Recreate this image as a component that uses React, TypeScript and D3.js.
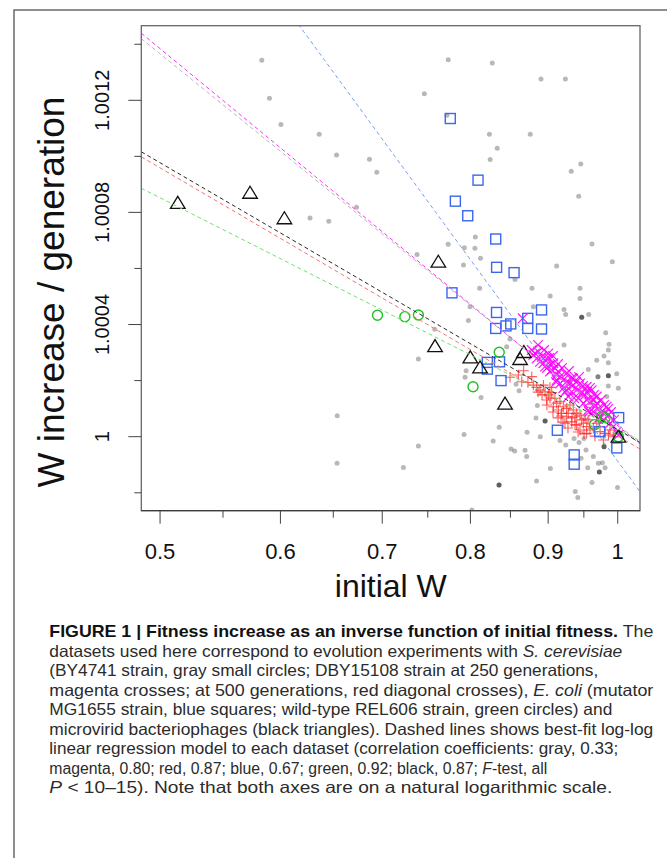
import React from "react";
import * as d3 from "d3";

// ---- Data (initial W, W increase / generation) ----
const grayX = [0.5833,0.5901,0.6004,0.6363,0.6532,0.6866,0.6943,0.6733,0.6275,0.6456,0.7736,0.8270,0.7461,0.8903,0.9238,0.8234,0.8759,0.8332,0.8243,0.9456,0.9320,0.9426,0.7720,0.8060,0.8055,0.7735,0.7927,0.8123,0.7917,0.7379,0.9617,0.9919,0.9116,0.8559,0.8782,0.8113,0.9028,0.9445,0.9445,0.7976,0.7996,0.7579,0.7394,0.7948,0.7936,0.8130,0.8452,0.8494,0.8573,0.8612,0.8800,0.9219,0.9242,0.9469,0.9469,0.9469,0.9570,0.9219,0.9820,0.9870,0.9859,0.9795,0.9687,0.9859,0.9564,0.9859,0.9859,0.9859,0.9859,0.9835,0.9637,0.9985,1.0009,0.8854,0.8836,0.8958,0.8958,0.8958,0.8717,0.8357,0.8281,0.7924,0.7394,0.7228,0.8508,0.8555,0.8690,0.8712,0.8893,0.8355,0.8355,0.8355,0.8843,0.9030,0.9163,0.9243,0.9360,0.9431,0.9502,0.9460,0.9531,0.9637,0.9711,0.9770,0.9810,0.9725,0.9725,0.9725,0.9556,0.9618,0.9377,0.9413,0.9997,0.8017,0.6539,0.6537,0.9795,0.9795,0.9795,0.9705,0.9705];
const grayY = [1.001343,1.001207,1.001114,1.001079,1.001005,1.000990,1.000943,1.000818,1.000780,1.000768,1.001345,1.001333,1.001223,1.001276,1.001276,1.001079,1.001079,1.001029,1.000989,1.000973,1.000947,1.000858,1.001147,1.000712,1.000672,1.000686,1.000674,1.000636,1.000612,1.000650,1.000687,1.000624,1.000609,1.000561,1.000529,1.000529,1.000502,1.000529,1.000493,1.000414,1.000463,1.000383,1.000277,1.000235,1.000212,1.000140,1.000321,1.000348,1.000187,1.000164,1.000463,1.000454,1.000436,1.000426,1.000426,1.000426,1.000436,1.000327,1.000371,1.000330,1.000309,1.000288,1.000273,1.000264,1.000240,1.000217,1.000217,1.000217,1.000181,1.000143,1.000125,1.000224,1.000173,1.000111,1.000067,1.000056,1.000056,1.000056,1.000016,1.000034,0.999985,1.000008,0.999967,0.999890,0.999956,0.999949,0.999952,0.999929,1.000000,0.999828,0.999828,0.999828,0.999842,0.999887,0.999986,0.999970,0.999994,0.999979,0.999994,0.999923,0.999953,0.999929,0.999905,0.999907,0.999889,0.999874,0.999874,0.999874,0.999889,0.999837,0.999805,0.999783,0.999819,0.999739,1.000075,0.999905,0.999964,0.999964,0.999964,1.000214,1.000214];

const magentaX = [0.8660,0.8779,0.8823,0.8867,0.8913,0.8980,0.8935,0.9025,0.9048,0.9093,0.9117,0.9163,0.9209,0.9256,0.9302,0.9349,0.9256,0.9326,0.9397,0.9469,0.9517,0.9541,0.9588,0.9637,0.9661,0.9711,0.9761,0.9810,0.9860,0.9541,0.9613,0.9687,0.9445,0.9349,0.9071,0.9025,0.9140,0.9003,0.8890,0.9163,0.9209,0.9421,0.9493,0.9736,0.9785,0.9884,0.9934,0.9985,1.0009,0.9835,0.9564,0.9637,0.9279,0.9117,0.8958,0.8845,0.8800,
  0.8863,0.8944,0.9012,0.9066,0.9135,0.9191,0.9247,0.9288,0.9331,0.9388,0.9431,0.9488,0.9546,0.9588,0.9646,0.9692,0.9751,0.9795,0.9855,0.9899,0.9944,0.8983,0.9108,0.9233,0.9360,0.9575,0.9706];
const magentaY = [1.000422,1.000309,1.000297,1.000303,1.000285,1.000279,1.000262,1.000256,1.000238,1.000244,1.000220,1.000214,1.000202,1.000196,1.000190,1.000184,1.000166,1.000160,1.000166,1.000155,1.000149,1.000131,1.000125,1.000131,1.000107,1.000101,1.000089,1.000083,1.000077,1.000178,1.000166,1.000143,1.000190,1.000208,1.000262,1.000232,1.000232,1.000297,1.000267,1.000190,1.000173,1.000137,1.000119,1.000071,1.000060,1.000048,1.000036,1.000018,1.000006,1.000107,1.000095,1.000089,1.000143,1.000202,1.000250,1.000279,1.000291,
  1.000327,1.000309,1.000281,1.000288,1.000259,1.000245,1.000224,1.000234,1.000209,1.000195,1.000213,1.000181,1.000159,1.000174,1.000149,1.000120,1.000131,1.000113,1.000099,1.000088,1.000060,1.000245,1.000195,1.000159,1.000138,1.000088,1.000063];

const redX = [0.8495,0.8603,0.8672,0.8728,0.8800,0.8845,0.8890,0.8958,0.9003,0.9048,0.9093,0.9117,0.9163,0.9209,0.9256,0.9279,0.9302,0.9349,0.9372,0.9397,0.9445,0.9469,0.9493,0.9517,0.9256,0.9232,0.9326,0.9397,0.9445,0.9541,0.9588,0.9637,0.9736,0.9810,0.9860,0.9934,0.9687,0.9140,0.9071,0.8980,0.8935,0.8779,0.8647,0.9025,0.9186,0.9541,0.9785,0.9884,
  0.8917,0.8983,0.9066,0.9135,0.9205,0.9274,0.9331,0.9417,0.9502,0.9560,0.9661,0.9025,0.8863,0.9177,0.9374];
const redY = [1.000212,1.000220,1.000235,1.000193,1.000184,1.000176,1.000166,1.000160,1.000149,1.000157,1.000137,1.000119,1.000125,1.000107,1.000101,1.000083,1.000113,1.000095,1.000071,1.000083,1.000077,1.000060,1.000048,1.000066,1.000071,1.000048,1.000053,1.000042,1.000024,1.000036,1.000024,1.000030,1.000018,1.000012,1.000006,1.000000,1.000048,1.000095,1.000107,1.000131,1.000184,1.000214,1.000196,1.000176,1.000083,1.000012,0.999988,1.000024,
  1.000149,1.000113,1.000088,1.000067,1.000052,1.000031,1.000067,1.000017,1.000010,1.000060,1.000002,1.000138,1.000159,1.000074,1.000042];

const blueX = [0.7760,0.8093,0.7820,0.7968,0.8313,0.8324,0.8547,0.7780,0.8323,0.8910,0.8313,0.8443,0.8504,0.8726,0.8726,0.8910,0.8208,0.8208,0.8361,0.8380,0.9126,0.9362,0.9362,1.0014,0.9730,0.9986];
const blueY = [1.001135,1.000915,1.000840,1.000788,1.000705,1.000604,1.000585,1.000513,1.000443,1.000452,1.000386,1.000395,1.000402,1.000422,1.000386,1.000384,1.000265,1.000241,1.000267,1.000200,1.000023,0.999935,0.999902,1.000068,1.000018,0.999960];

const greenX = [0.6950,0.7244,0.7394,0.8357,0.8032,0.9655,0.9761,0.9810,1.0010];
const greenY = [1.000433,1.000428,1.000434,1.000301,1.000178,1.000043,1.000073,1.000068,1.000000];

const blackX = [0.5136,0.5730,0.6036,0.7621,0.7583,0.7999,0.8118,0.8431,0.8625,0.8675,1.0010];
const blackY = [1.000834,1.000870,1.000779,1.000624,1.000323,1.000283,1.000247,1.000118,1.000277,1.000302,1.000000];

// log-log fits: ln(y) = a + b * ln(x)
const fitNames = ["gray", "magenta", "red", "blue", "green", "black"];
const fitA = [0.0000433, 0.0000394, 0.0000025, -0.0000874, 0.0000262, 0.0000253];
const fitB = [-0.0019068, -0.001939, -0.0013791, -0.0032201, -0.0011912, -0.0013725];

const xTickValues = [0.5, 0.6, 0.7, 0.8, 0.9, 1];
const xTickLabels = ["0.5", "0.6", "0.7", "0.8", "0.9", "1"];
const xMinorTicks = [0.55, 0.65, 0.75, 0.85, 0.95];
const yTickValues = [1, 1.0004, 1.0008, 1.0012];
const yTickLabels = ["1", "1.0004", "1.0008", "1.0012"];
const yMinorTicks = [0.9998, 1.0002, 1.0006, 1.001, 1.0014];

const xDomain = [0.486, 1.0343];
const yDomain = [0.9997362, 1.0014663];

const captionLines: { t: string; s?: "b" | "i" }[][] = [
  [{ t: "FIGURE 1 | Fitness increase as an inverse function of initial fitness.", s: "b" }, { t: " The" }],
  [{ t: "datasets used here correspond to evolution experiments with " }, { t: "S. cerevisiae", s: "i" }],
  [{ t: "(BY4741 strain, gray small circles; DBY15108 strain at 250 generations," }],
  [{ t: "magenta crosses; at 500 generations, red diagonal crosses), " }, { t: "E. coli", s: "i" }, { t: " (mutator" }],
  [{ t: "MG1655 strain, blue squares; wild-type REL606 strain, green circles) and" }],
  [{ t: "microvirid bacteriophages (black triangles). Dashed lines shows best-fit log-log" }],
  [{ t: "linear regression model to each dataset (correlation coefficients: gray, 0.33;" }],
  [{ t: "magenta, 0.80; red, 0.87; blue, 0.67; green, 0.92; black, 0.87; " }, { t: "F", s: "i" }, { t: "-test, all" }],
  [{ t: "P", s: "i" }, { t: " < 10–15). Note that both axes are on a natural logarithmic scale." }],
];
// target line widths (0 = natural width)
const captionWidths = [604, 573, 549, 604, 563, 604, 569, 0, 563];

const fitColors: Record<string, string> = {
  gray: "#b8b8b8",
  magenta: "#ff30ff",
  red: "#f27272",
  blue: "#7b9df2",
  green: "#6fe06f",
  black: "#2a2a2a",
};

export default function App() {
  const W = 667, H = 858;
  const L = 141.3, R = 640, T = 25.7, B = 510.7;
  const x = d3.scaleLog().domain(xDomain).range([L, R]);
  const y = d3.scaleLog().domain(yDomain).range([B, T]);
  const font = "'Liberation Sans', Arial, Helvetica, sans-serif";

  const fitPaths = fitNames.map((n, i) => {
    const pts = xDomain.map((xv) => [x(xv), y(Math.exp(fitA[i] + fitB[i] * Math.log(xv)))] as [number, number]);
    return { n, d: d3.line()(pts) as string };
  });

  const tri = (cx: number, cy: number) =>
    `M${cx},${cy - 6.5}L${cx + 7.3},${cy + 5.5}L${cx - 7.3},${cy + 5.5}Z`;

  return (
    <svg width={W} height={H} style={{ position: "absolute", left: 0, top: 0, background: "#fff" }} fontFamily={font}>
      <rect x={0} y={0} width={W} height={H} fill="#fff" />
      {/* outer frame */}
      <path d={`M14,${H}L14,10L${W},10`} fill="none" stroke="#6a6a6a" strokeWidth={1.5} />
      <defs>
        <clipPath id="plotclip">
          <rect x={L} y={T} width={R - L} height={B - T} />
        </clipPath>
      </defs>

      <g clipPath="url(#plotclip)">
        {grayX.map((v, i) => (
          <circle key={"g" + i} cx={x(v)} cy={y(grayY[i])} r={2.5} fill="#000" fillOpacity={0.28} />
        ))}
        {redX.map((v, i) => {
          const cx = x(v), cy = y(redY[i]), s = 5.2;
          return (
            <path key={"r" + i} d={`M${cx - s},${cy}L${cx + s},${cy}M${cx},${cy - s}L${cx},${cy + s}`}
              stroke="#ff1a1a" strokeOpacity={0.72} strokeWidth={1.1} fill="none" />
          );
        })}
        {magentaX.map((v, i) => {
          const cx = x(v), cy = y(magentaY[i]), s = 4.8;
          return (
            <path key={"m" + i} d={`M${cx - s},${cy - s}L${cx + s},${cy + s}M${cx - s},${cy + s}L${cx + s},${cy - s}`}
              stroke="#ff00ff" strokeOpacity={0.9} strokeWidth={1.2} fill="none" />
          );
        })}
        {blueX.map((v, i) => (
          <rect key={"b" + i} x={x(v) - 5} y={y(blueY[i]) - 5} width={10} height={10}
            fill="none" stroke="#3a66f0" strokeWidth={1.4} />
        ))}
        {greenX.map((v, i) => (
          <circle key={"gr" + i} cx={x(v)} cy={y(greenY[i])} r={5} fill="none" stroke="#1fc21f" strokeWidth={1.4} />
        ))}
        {blackX.map((v, i) => (
          <path key={"k" + i} d={tri(x(v), y(blackY[i]))} fill="none" stroke="#111" strokeWidth={1.3} />
        ))}
        {fitPaths.map((f) => (
          <path key={f.n} d={f.d} fill="none" stroke={fitColors[f.n]} strokeWidth={1} strokeDasharray="4,3" />
        ))}
      </g>

      {/* box */}
      <rect x={L} y={T} width={R - L} height={B - T} fill="none" stroke="#666" strokeWidth={1.3} />
      <line x1={L} x2={R} y1={B} y2={B} stroke="#333" strokeWidth={1} />

      {/* x axis ticks */}
      {xTickValues.map((v, i) => (
        <g key={"xt" + i}>
          <line x1={x(v)} x2={x(v)} y1={B} y2={B + 13} stroke="#444" strokeWidth={1} />
          <text x={x(v)} y={559.3} fontSize={22} textAnchor="middle" fill="#111">{xTickLabels[i]}</text>
        </g>
      ))}
      {xMinorTicks.map((v, i) => (
        <line key={"xm" + i} x1={x(v)} x2={x(v)} y1={B} y2={B + 7} stroke="#444" strokeWidth={1} />
      ))}
      {/* y axis ticks */}
      {yTickValues.map((v, i) => (
        <g key={"yt" + i}>
          <line x1={L - 13} x2={L} y1={y(v)} y2={y(v)} stroke="#444" strokeWidth={1} />
          <text transform={`translate(109.3,${y(v)}) rotate(-90)`} fontSize={20} textAnchor="middle" fill="#111">
            {yTickLabels[i]}
          </text>
        </g>
      ))}
      {yMinorTicks.map((v, i) => (
        <line key={"ym" + i} x1={L - 7} x2={L} y1={y(v)} y2={y(v)} stroke="#444" strokeWidth={1} />
      ))}

      {/* axis titles */}
      <text x={390.8} y={596.7} fontSize={32} textAnchor="middle" fill="#111">initial W</text>
      <text transform="translate(64,292) rotate(-90)" fontSize={37} textAnchor="middle" fill="#111">
        W increase / generation
      </text>

      {/* caption */}
      {captionLines.map((segs, i) => (
        <text key={"c" + i} x={49.3} y={637 + i * 19.5} fontSize={captionWidths[i] ? 16.5 : 15.8} fill="#2b2b2b"
          {...(captionWidths[i] ? { textLength: captionWidths[i], lengthAdjust: "spacingAndGlyphs" } : {})}>
          {segs.map((s, j) => (
            <tspan key={j} fontWeight={s.s === "b" ? "bold" : "normal"} fontStyle={s.s === "i" ? "italic" : "normal"}
              fill={s.s === "b" ? "#111" : "#2b2b2b"}>
              {s.t}
            </tspan>
          ))}
        </text>
      ))}
    </svg>
  );
}
